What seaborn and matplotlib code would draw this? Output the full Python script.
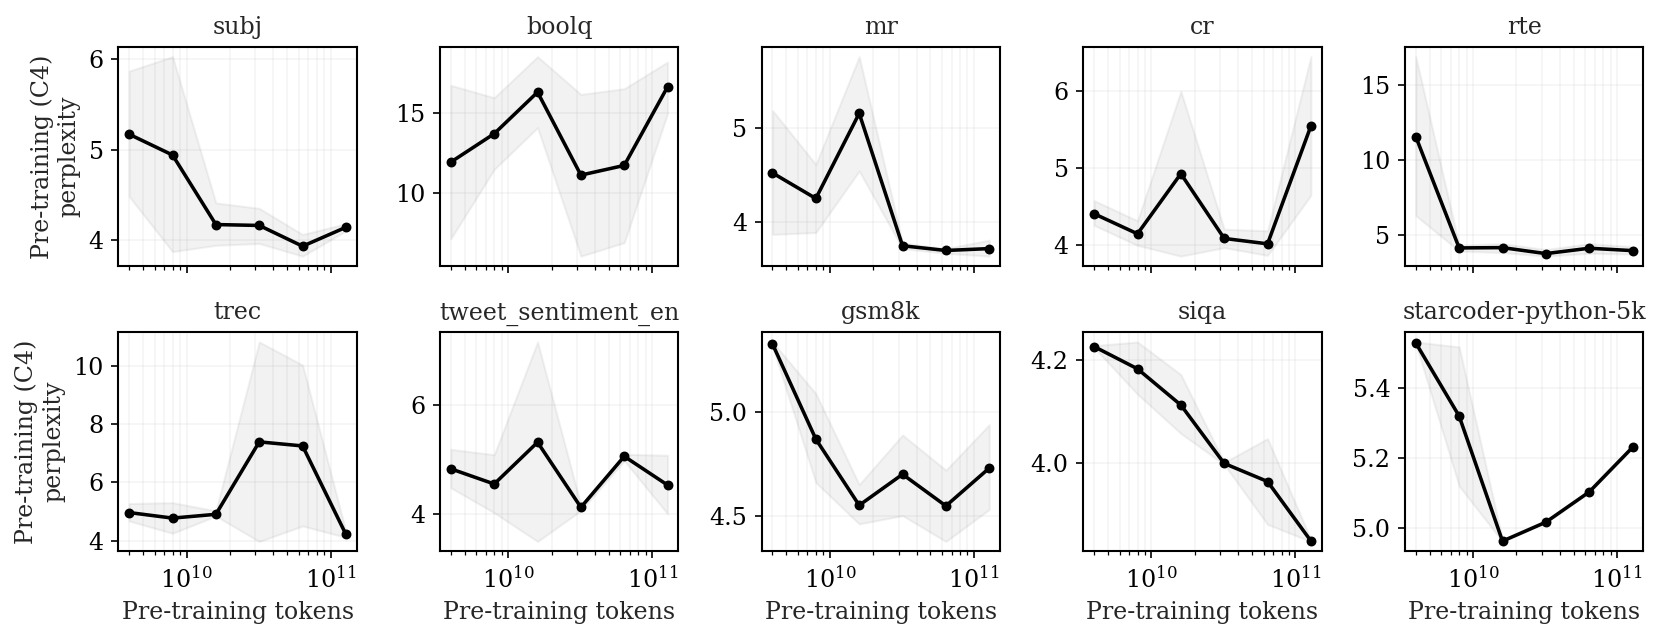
import numpy as np
import pandas as pd
import matplotlib
matplotlib.use("Agg")
import matplotlib.pyplot as plt
from matplotlib.ticker import MaxNLocator
import seaborn as sns

# ---------------------
# data
# ---------------------
tokens = [4e9, 8e9, 1.6e10, 3.2e10, 6.4e10, 1.28e11]

tasks = ["subj", "boolq", "mr", "cr", "rte",
         "trec", "tweet_sentiment_en", "gsm8k", "siqa", "starcoder-python-5k"]

# mean perplexity per task
ppl_mean = [
    [5.17, 4.94, 4.17, 4.16, 3.93, 4.14],
    [11.93, 13.72, 16.34, 11.11, 11.72, 16.68],
    [4.52, 4.25, 5.15, 3.75, 3.70, 3.72],
    [4.41, 4.15, 4.93, 4.09, 4.02, 5.55],
    [11.55, 4.11, 4.13, 3.73, 4.09, 3.93],
    [4.97, 4.78, 4.91, 7.39, 7.25, 4.22],
    [4.83, 4.55, 5.32, 4.12, 5.06, 4.53],
    [5.33, 4.87, 4.55, 4.70, 4.547, 4.73],
    [4.226, 4.183, 4.113, 4.0, 3.965, 3.85],
    [5.527, 5.319, 4.963, 5.017, 5.103, 5.23],
]

# lower edge of shaded band
ppl_low = [
    [4.48, 3.87, 3.94, 3.96, 3.82, 4.10],
    [7.1, 11.47, 14.1, 6.0, 6.85, 15.0],
    [3.87, 3.89, 4.54, 3.72, 3.67, 3.64],
    [4.26, 4.0, 3.86, 3.97, 3.87, 4.65],
    [6.27, 3.9, 3.8, 3.56, 3.75, 3.7],
    [4.68, 4.26, 4.85, 3.98, 4.51, 4.12],
    [4.48, 4.02, 3.49, 4.06, 4.98, 4.0],
    [5.32, 4.66, 4.46, 4.50, 4.375, 4.53],
    [4.224, 4.134, 4.058, 3.998, 3.882, 3.849],
    [5.525, 5.12, 4.962, 5.016, 5.102, 5.229],
]

# upper edge of shaded band
ppl_high = [
    [5.87, 6.03, 4.41, 4.35, 4.06, 4.18],
    [16.77, 15.99, 18.58, 16.2, 16.56, 18.24],
    [5.18, 4.61, 5.75, 3.78, 3.72, 3.81],
    [4.58, 4.32, 6.0, 4.21, 4.19, 6.45],
    [16.9, 4.3, 4.4, 4.0, 4.4, 4.2],
    [5.28, 5.31, 5.03, 10.81, 10.02, 4.32],
    [5.19, 5.09, 7.17, 4.16, 5.1, 5.08],
    [5.34, 5.09, 4.65, 4.89, 4.72, 4.94],
    [4.228, 4.235, 4.172, 4.002, 4.048, 3.853],
    [5.53, 5.516, 4.966, 5.018, 5.104, 5.231],
]

# ---------------------
# style
# ---------------------
sns.set_style("ticks")
plt.rcParams["font.family"] = ["DejaVu Serif"]
plt.rcParams["mathtext.fontset"] = "dejavuserif"
plt.rcParams["font.size"] = 11.4
plt.rcParams["axes.edgecolor"] = "black"
plt.rcParams["axes.linewidth"] = 1.0
plt.rcParams["xtick.color"] = "black"
plt.rcParams["ytick.color"] = "black"

fig, axes = plt.subplots(2, 5, figsize=(1660 / 150, 639 / 150), dpi=150, sharex=True)
fig.subplots_adjust(left=0.0713, right=0.990, top=0.927, bottom=0.137,
                    wspace=0.349, hspace=0.30)

for i, ax in enumerate(axes.flat):
    df = pd.DataFrame({"tokens": tokens, "ppl": ppl_mean[i],
                       "low": ppl_low[i], "high": ppl_high[i]})
    ax.fill_between(df["tokens"], df["low"], df["high"], color="gray", alpha=0.1)
    sns.lineplot(data=df, x="tokens", y="ppl", ax=ax, color="black",
                 marker="o", markersize=4, mec="black", linewidth=1.7)
    ax.set_xscale("log")
    ax.yaxis.set_major_locator(MaxNLocator(nbins=4, steps=[1, 2, 2.5, 5, 10]))
    ax.grid(True, which="both", alpha=0.2)
    ax.set_title(tasks[i], fontsize=11.4)
    ax.set_xlabel("Pre-training tokens" if i >= 5 else "")
    ax.set_ylabel("Pre-training (C4)\nperplexity" if i % 5 == 0 else "")
    for s in ax.spines.values():
        s.set_visible(True)

plt.savefig("out.png", dpi=150)
